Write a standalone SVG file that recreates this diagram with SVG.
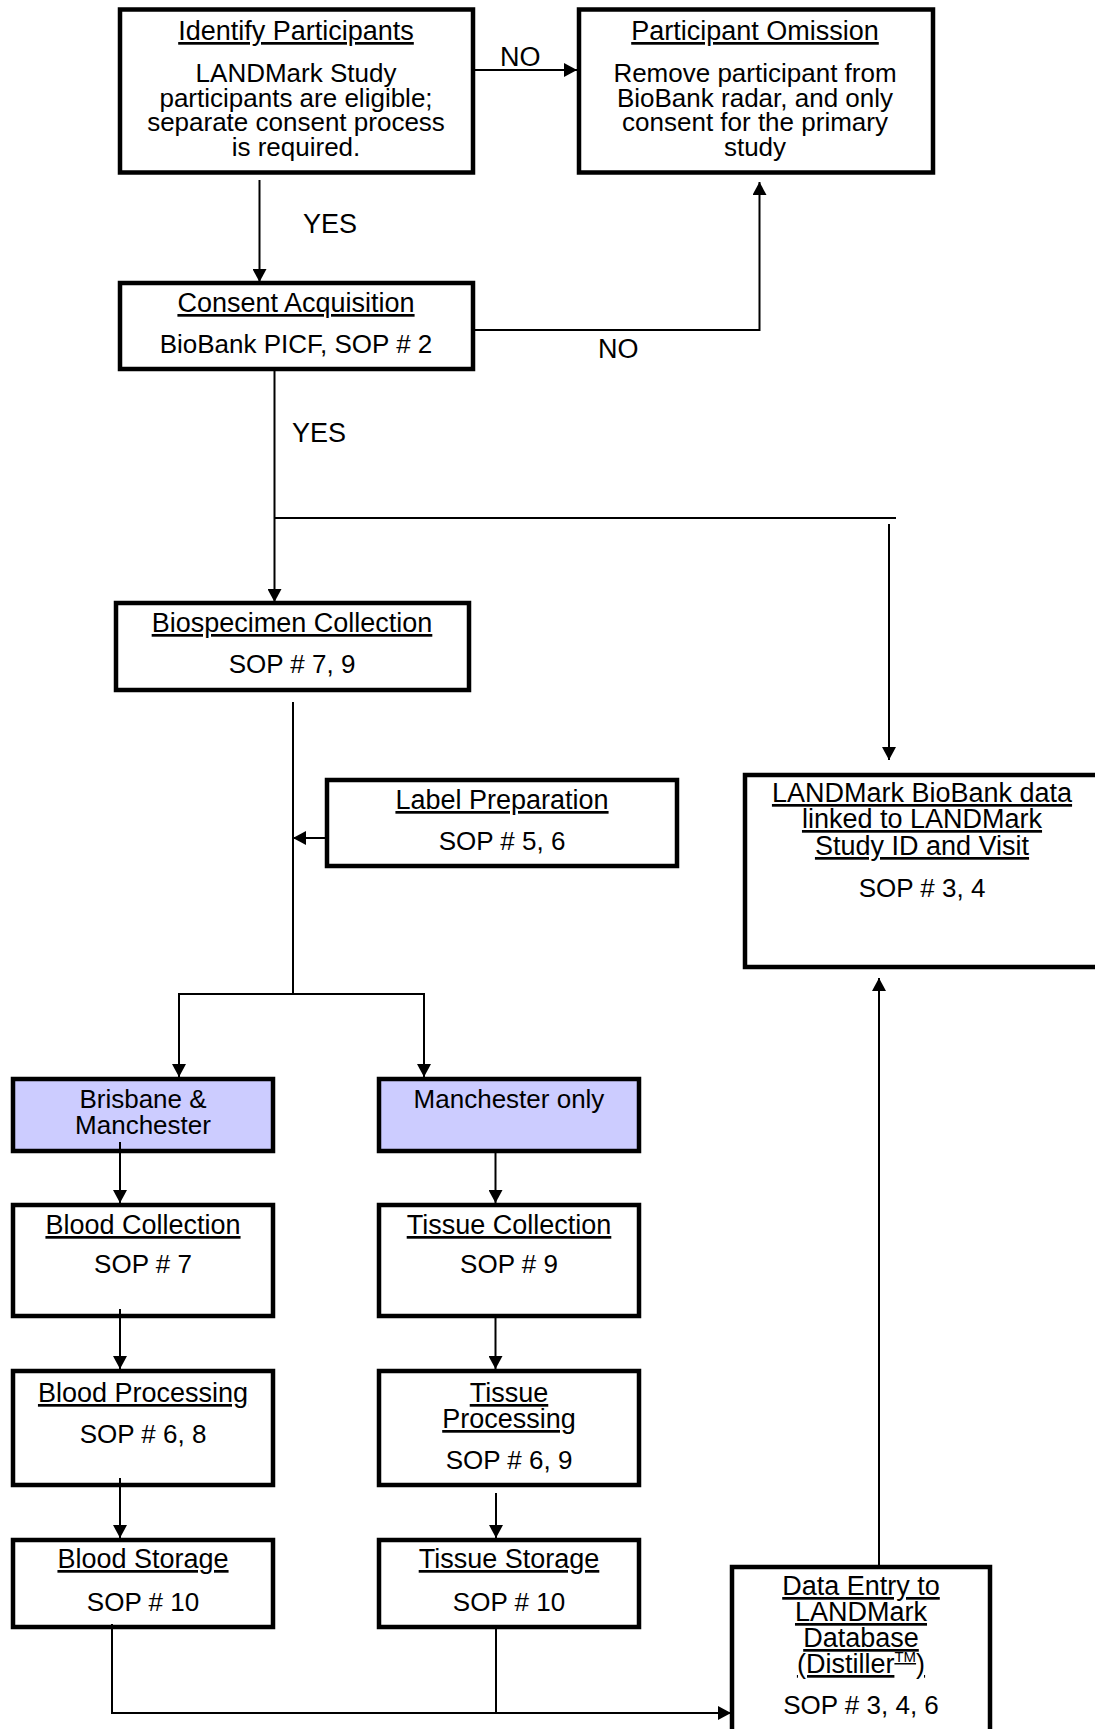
<svg xmlns="http://www.w3.org/2000/svg" width="1095" height="1729" viewBox="0 0 1095 1729">
<style>
.box{fill:#fff;stroke:#000;stroke-width:4.5}
.site{fill:#ccccff;stroke:#000;stroke-width:4.5}
.c{fill:none;stroke:#000;stroke-width:2}
text{font-family:"Liberation Sans",Arial,sans-serif;fill:#000;text-anchor:middle}
.t{font-size:27px;text-decoration:underline}
.b{font-size:26px}
.l{font-size:27px;text-anchor:start}
</style>
<defs>
<marker id="ah" markerUnits="userSpaceOnUse" markerWidth="14" markerHeight="14" refX="13" refY="7" orient="auto">
<path d="M0,0 L13,7 L0,14 z" fill="#000"/>
</marker>
</defs>
<rect width="1095" height="1729" fill="#fff"/>
<g id="identify">
<rect class="box" x="120" y="9.5" width="353" height="163"/>
<text class="t" x="296" y="40">Identify Participants</text>
<text class="b" x="296" y="82">LANDMark Study</text>
<text class="b" x="296" y="107">participants are eligible;</text>
<text class="b" x="296" y="131">separate consent process</text>
<text class="b" x="296" y="156">is required.</text>
</g>
<g id="omission">
<rect class="box" x="579" y="9.5" width="354" height="163"/>
<text class="t" x="755" y="40">Participant Omission</text>
<text class="b" x="755" y="82">Remove participant from</text>
<text class="b" x="755" y="107">BioBank radar, and only</text>
<text class="b" x="755" y="131">consent for the primary</text>
<text class="b" x="755" y="156">study</text>
</g>
<g id="consent">
<rect class="box" x="120" y="283" width="353" height="86"/>
<text class="t" x="296" y="312">Consent Acquisition</text>
<text class="b" x="296" y="353">BioBank PICF, SOP # 2</text>
</g>
<g id="biospecimen">
<rect class="box" x="116" y="603" width="353" height="87"/>
<text class="t" x="292" y="632">Biospecimen Collection</text>
<text class="b" x="292" y="673">SOP # 7, 9</text>
</g>
<g id="label-prep">
<rect class="box" x="327" y="780" width="350" height="86"/>
<text class="t" x="502" y="809">Label Preparation</text>
<text class="b" x="502" y="850">SOP # 5, 6</text>
</g>
<g id="landmark-data">
<rect class="box" x="745" y="775" width="360" height="192"/>
<text class="t" x="922" y="802">LANDMark BioBank data</text>
<text class="t" x="922" y="828">linked to LANDMark</text>
<text class="t" x="922" y="855">Study ID and Visit</text>
<text class="b" x="922" y="897">SOP # 3, 4</text>
</g>
<g id="brisbane">
<rect class="site" x="13" y="1079" width="260" height="72"/>
<text class="b" x="143" y="1108">Brisbane &amp;</text>
<text class="b" x="143" y="1134">Manchester</text>
</g>
<g id="manchester">
<rect class="site" x="379" y="1079" width="260" height="72"/>
<text class="b" x="509" y="1108">Manchester only</text>
</g>
<g id="blood-collection">
<rect class="box" x="13" y="1205" width="260" height="111"/>
<text class="t" x="143" y="1234">Blood Collection</text>
<text class="b" x="143" y="1273">SOP # 7</text>
</g>
<g id="tissue-collection">
<rect class="box" x="379" y="1205" width="260" height="111"/>
<text class="t" x="509" y="1234">Tissue Collection</text>
<text class="b" x="509" y="1273">SOP # 9</text>
</g>
<g id="blood-processing">
<rect class="box" x="13" y="1371" width="260" height="114"/>
<text class="t" x="143" y="1402">Blood Processing</text>
<text class="b" x="143" y="1443">SOP # 6, 8</text>
</g>
<g id="tissue-processing">
<rect class="box" x="379" y="1371" width="260" height="114"/>
<text class="t" x="509" y="1402">Tissue</text>
<text class="t" x="509" y="1428">Processing</text>
<text class="b" x="509" y="1469">SOP # 6, 9</text>
</g>
<g id="blood-storage">
<rect class="box" x="13" y="1540" width="260" height="87"/>
<text class="t" x="143" y="1568">Blood Storage</text>
<text class="b" x="143" y="1611">SOP # 10</text>
</g>
<g id="tissue-storage">
<rect class="box" x="379" y="1540" width="260" height="87"/>
<text class="t" x="509" y="1568">Tissue Storage</text>
<text class="b" x="509" y="1611">SOP # 10</text>
</g>
<g id="data-entry">
<rect class="box" x="732" y="1567" width="258" height="200"/>
<text class="t" x="861" y="1595">Data Entry to</text>
<text class="t" x="861" y="1621">LANDMark</text>
<text class="t" x="861" y="1647">Database</text>
<text class="t" x="861" y="1673">(Distiller<tspan font-size="15" dy="-11">TM</tspan><tspan dy="11">)</tspan></text>
<text class="b" x="861" y="1714">SOP # 3, 4, 6</text>
</g>
<g id="connectors">
<line class="c" x1="475" y1="70" x2="577" y2="70" marker-end="url(#ah)"/>
<line class="c" x1="259.5" y1="180" x2="259.5" y2="282" marker-end="url(#ah)"/>
<path class="c" d="M475,330 H759.5 V182" marker-end="url(#ah)"/>
<line class="c" x1="274.5" y1="371" x2="274.5" y2="602" marker-end="url(#ah)"/>
<line class="c" x1="274.5" y1="518" x2="896" y2="518"/>
<line class="c" x1="889" y1="524" x2="889" y2="760" marker-end="url(#ah)"/>
<line class="c" x1="293" y1="702" x2="293" y2="995"/>
<line class="c" x1="325" y1="838" x2="293" y2="838" marker-end="url(#ah)"/>
<path class="c" d="M293,994 H179 V1077" marker-end="url(#ah)"/>
<path class="c" d="M293,994 H424 V1077" marker-end="url(#ah)"/>
<line class="c" x1="120" y1="1142" x2="120" y2="1203" marker-end="url(#ah)"/>
<line class="c" x1="495.5" y1="1153" x2="495.5" y2="1203" marker-end="url(#ah)"/>
<line class="c" x1="120" y1="1309" x2="120" y2="1369" marker-end="url(#ah)"/>
<line class="c" x1="495.5" y1="1318" x2="495.5" y2="1369" marker-end="url(#ah)"/>
<line class="c" x1="120" y1="1478" x2="120" y2="1538" marker-end="url(#ah)"/>
<line class="c" x1="496" y1="1493" x2="496" y2="1538" marker-end="url(#ah)"/>
<path class="c" d="M112,1624 V1713 H731" marker-end="url(#ah)"/>
<line class="c" x1="496" y1="1629" x2="496" y2="1713"/>
<line class="c" x1="879" y1="1565" x2="879" y2="978" marker-end="url(#ah)"/>
<text class="l" x="500" y="66">NO</text>
<text class="l" x="303" y="233">YES</text>
<text class="l" x="598" y="358">NO</text>
<text class="l" x="292" y="442">YES</text>
</g>
</svg>
